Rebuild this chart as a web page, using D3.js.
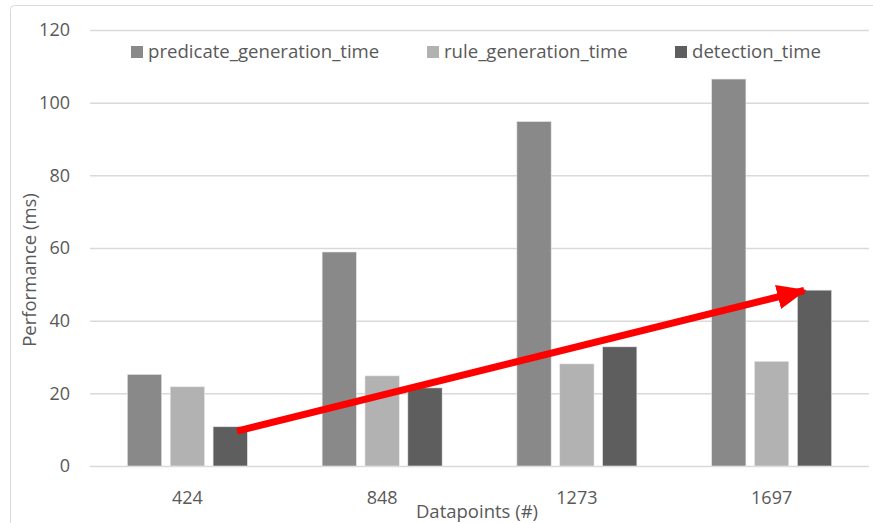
<!DOCTYPE html>
<html><head><meta charset="utf-8">
<script src="https://cdn.jsdelivr.net/npm/d3@7"></script>
<style>body{margin:0;background:#fff}svg{display:block}text{font-family:"Open Sans",sans-serif;fill:#595959}</style>
</head><body><svg id="c" width="873" height="523"></svg>
<script>
const categories = ["424", "848", "1273", "1697"];
const seriesNames = ["predicate_generation_time", "rule_generation_time", "detection_time"];
const predicateGeneration = [25.2, 58.9, 94.8, 106.5];
const ruleGeneration = [21.8, 24.8, 28.1, 28.8];
const detection = [10.8, 21.5, 32.8, 48.4];
const yTicks = [0, 20, 40, 60, 80, 100, 120];
const seriesColors = ["#898989", "#b2b2b2", "#5e5e5e"];
// trend arrow annotation (category, value) endpoints
const arrowFrom = {cat: "424", value: 9.6};
const arrowTo = {cat: "1697", value: 48.3};

const svg = d3.select("#c");
const m = {l: 90, r: 869, t: 30, b: 466};
svg.append("rect").attr("x", 10.5).attr("y", 5.5).attr("width", 880).attr("height", 540)
  .attr("rx", 4).attr("fill", "none").attr("stroke", "#d9d9d9");

const x = d3.scaleBand().domain(categories).range([m.l, m.r]);
const y = d3.scaleLinear().domain([0, 120]).range([m.b, m.t]);
const xs = d3.scaleBand().domain(seriesNames).range([x.bandwidth()/2 - 60, x.bandwidth()/2 + 60]).paddingInner(0.2);

const gy = svg.append("g").attr("transform", `translate(${m.l},0)`)
  .call(d3.axisLeft(y).tickValues(yTicks).tickSize(-(m.r - m.l)).tickPadding(20));
gy.select(".domain").remove();
gy.selectAll(".tick line").attr("stroke", "#d9d9d9").attr("stroke-width", 1.5);
gy.selectAll(".tick text").attr("font-size", 18).attr("fill", "#595959");

const gx = svg.append("g").attr("transform", `translate(0,${m.b})`)
  .call(d3.axisBottom(x).tickSize(0).tickPadding(25));
gx.select(".domain").remove();
gx.selectAll(".tick text").attr("font-size", 18).attr("fill", "#595959");

const data = [predicateGeneration, ruleGeneration, detection];
seriesNames.forEach((s, i) => {
  svg.append("g").selectAll("rect").data(categories).join("rect")
    .attr("x", c => x(c) + xs(s))
    .attr("y", (c, j) => y(data[i][j]))
    .attr("width", xs.bandwidth())
    .attr("height", (c, j) => y(0) - y(data[i][j]))
    .attr("fill", seriesColors[i])
    .attr("stroke", "#e6e6e6").attr("stroke-width", 0.6);
});

// legend
const legX = [131, 427, 675];
const leg = svg.append("g");
seriesNames.forEach((s, i) => {
  leg.append("rect").attr("x", legX[i]).attr("y", 46).attr("width", 12).attr("height", 12).attr("fill", seriesColors[i]);
  leg.append("text").attr("x", legX[i] + 17).attr("y", 58).attr("font-size", 18.6).text(s);
});

svg.append("text").attr("transform", "translate(36,270) rotate(-90)").attr("text-anchor", "middle")
  .attr("font-size", 18.5).text("Performance (ms)");
svg.append("text").attr("x", 477).attr("y", 518).attr("text-anchor", "middle")
  .attr("font-size", 18.5).text("Datapoints (#)");

// arrow
const defs = svg.append("defs");
defs.append("marker").attr("id", "ah").attr("viewBox", "0 0 12 10").attr("refX", 11).attr("refY", 5)
  .attr("markerWidth", 4.2).attr("markerHeight", 3.5).attr("markerUnits", "strokeWidth").attr("orient", "auto")
  .append("path").attr("d", "M0,0 L12,5 L0,10 Z").attr("fill", "#ff0000");
const x1 = x(arrowFrom.cat) + xs("detection_time") + xs.bandwidth()*0.7;
const x2 = x(arrowTo.cat) + xs("detection_time") + xs.bandwidth()*0.2;
svg.append("line").attr("x1", x1).attr("y1", y(arrowFrom.value)).attr("x2", x2).attr("y2", y(arrowTo.value))
  .attr("stroke", "#ff0000").attr("stroke-width", 7).attr("marker-end", "url(#ah)");
</script></body></html>
